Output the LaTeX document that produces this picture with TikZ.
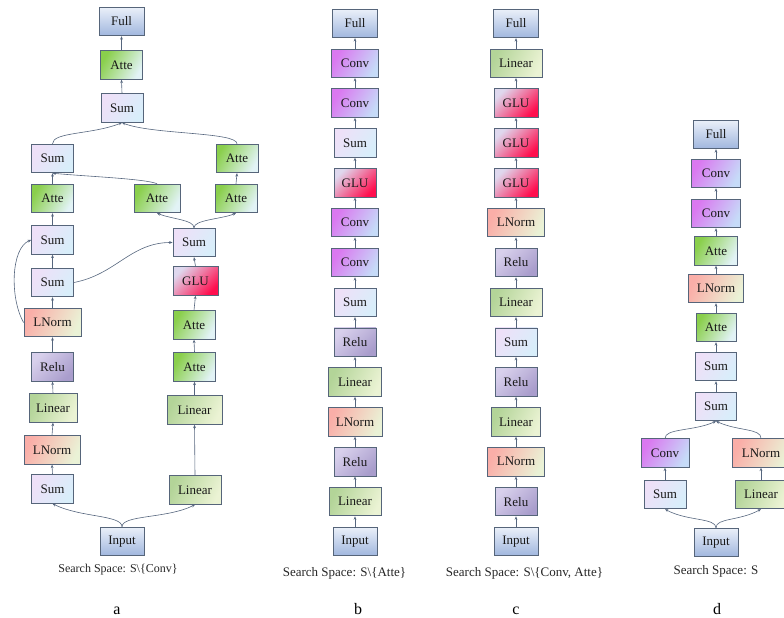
\documentclass[tikz,border=0pt]{standalone}
\usepackage{fontspec}
\setmainfont{Liberation Serif}
\usetikzlibrary{arrows.meta}
\definecolor{bordc}{HTML}{56657A}
\definecolor{edgec}{HTML}{56667E}
\definecolor{FullA}{HTML}{EAF0F9}
\definecolor{FullB}{HTML}{A0B7DE}
\definecolor{AtteA}{HTML}{8ACF4C}
\definecolor{AtteB}{HTML}{E2F3F6}
\definecolor{SumA}{HTML}{EEE0F8}
\definecolor{SumB}{HTML}{D8EEFA}
\definecolor{LNA}{HTML}{FAAEA8}
\definecolor{LNB}{HTML}{EAF2D6}
\definecolor{ReluA}{HTML}{D8D0EC}
\definecolor{ReluB}{HTML}{A99DCC}
\definecolor{LinA}{HTML}{B3D498}
\definecolor{LinB}{HTML}{EBF3D4}
\definecolor{GLUA}{HTML}{DFD8EE}
\definecolor{GLUB}{HTML}{FF0E4E}
\definecolor{ConvA}{HTML}{DA78F0}
\definecolor{ConvB}{HTML}{C6DBF8}
\tikzset{
  blk/.style={draw=bordc, line width=0.9pt, minimum height=28.5pt, inner sep=0pt,
    font=\fontsize{13}{15}\selectfont, text=black!90},
  fullbox/.style={blk, minimum width=45pt, top color=FullA, bottom color=FullB},
  inbox/.style={blk, minimum width=44pt, top color=FullA, bottom color=FullB},
  attebox/.style={blk, minimum width=42pt, top color=AtteA, bottom color=AtteB, shading angle=60},
  sumbox/.style={blk, minimum width=42pt, top color=SumA, bottom color=SumB, shading angle=60},
  lnbox/.style={blk, minimum width=56pt, top color=LNA, bottom color=LNB, shading angle=65},
  relubox/.style={blk, minimum width=42pt, top color=ReluA, bottom color=ReluB, shading angle=45},
  linbox/.style={blk, minimum width=52pt, top color=LinA, bottom color=LinB, shading angle=65},
  glubox/.style={blk, minimum width=44pt, top color=GLUA, bottom color=GLUB, shading angle=45},
  convbox/.style={blk, minimum width=47pt, top color=ConvA, bottom color=ConvB, shading angle=60},
  conn/.style={draw=edgec, line width=0.6pt, -{Stealth[length=3.4pt,width=2.8pt]}},
  captext/.style={anchor=base, inner sep=0pt, text=black!85},
  lbltext/.style={anchor=base, inner sep=0pt, font=\fontsize{16}{18}\selectfont}
}
\begin{document}
\begin{tikzpicture}[x=1pt,y=1pt]
\useasboundingbox (0,0) rectangle (784,618);
% ---------------- panel a ----------------
\node[fullbox] (aFull) at (121.5,596.5) {Full};
\node[attebox] (aAtte1) at (121.5,553) {Atte};
\node[sumbox] (aSum1) at (122,510) {Sum};
\node[sumbox] (aSumL) at (52.5,459.5) {Sum};
\node[attebox] (aAtteR1) at (237,459.5) {Atte};
\node[attebox] (aAtteL) at (52.5,419.5) {Atte};
\node[attebox, minimum width=46pt] (aAtteM) at (157,419.5) {Atte};
\node[attebox] (aAtteR2) at (236,419.5) {Atte};
\node[sumbox] (aSumL2) at (52.5,378) {Sum};
\node[sumbox] (aSumR) at (194,375.5) {Sum};
\node[sumbox] (aSumL3) at (52.5,335.5) {Sum};
\node[glubox, minimum width=45pt] (aGLU) at (195.5,337) {GLU};
\node[lnbox, minimum width=57pt] (aLNormL) at (52.5,295.5) {LNorm};
\node[attebox] (aAtteR3) at (194,293) {Atte};
\node[relubox] (aRelu) at (52.5,251) {Relu};
\node[attebox] (aAtteR4) at (194.5,251) {Atte};
\node[linbox, minimum width=48pt] (aLinL) at (53,210) {Linear};
\node[linbox, minimum width=55pt] (aLinR1) at (194.5,208) {Linear};
\node[lnbox] (aLNormL2) at (52,168) {LNorm};
\node[sumbox] (aSumB) at (52.5,129) {Sum};
\node[linbox] (aLinR2) at (195,128) {Linear};
\node[inbox] (aInput) at (122,76.5) {Input};
\node[captext, font=\fontsize{12}{14}\selectfont] (capA) at (118,45) {Search Space: S\textbackslash\{Conv\}};
\node[lbltext] (lblA) at (117,3) {a};

\draw[conn] (aAtte1.north) -- (aFull.south);
\draw[conn] (aSum1.north) -- (aAtte1.south);
\draw[conn] (aSumL.north) .. controls +(0,12) and +(-30,-12) .. (aSum1.south);
\draw[conn] (aAtteR1.north) .. controls +(0,12) and +(30,-12) .. (aSum1.south);
\draw[conn] (aAtteL.north) -- (aSumL.south);
\draw[conn] (aAtteM.north) .. controls +(-10,5) and +(30,-3) .. (aSumL.south);
\draw[conn] (aAtteR2.north) -- (aAtteR1.south);
\draw[conn] (aSumL2.north) -- (aAtteL.south);
\draw[conn] (aSumR.north) .. controls +(0,8) and +(15,-6) .. (aAtteM.south);
\draw[conn] (aSumR.north) .. controls +(0,8) and +(-15,-6) .. (aAtteR2.south);
\draw[conn] (aSumL3.north) -- (aSumL2.south);
\draw[conn] (aLNormL.west) .. controls +(-14,25) and +(-20,-8) .. (aSumL2.west);
\draw[conn] (aSumL3.east) .. controls +(42,8) and +(-42,0) .. (aSumR.west);
\draw[conn] (aLNormL.north) -- (aSumL3.south);
\draw[conn] (aGLU.north) -- (aSumR.south);
\draw[conn] (aAtteR3.north) -- (aGLU.south);
\draw[conn] (aAtteR4.north) -- (aAtteR3.south);
\draw[conn] (aRelu.north) -- (aLNormL.south);
\draw[conn] (aLinR1.north) -- (aAtteR4.south);
\draw[conn] (aLinL.north) -- (aRelu.south);
\draw[conn] (aLNormL2.north) -- (aLinL.south);
\draw[conn] (aLinR2.north) -- (aLinR1.south);
\draw[conn] (aSumB.north) -- (aLNormL2.south);
\draw[conn] (aInput.north) .. controls +(0,12) and +(28,-14) .. (aSumB.south);
\draw[conn] (aInput.north) .. controls +(0,12) and +(-28,-14) .. (aLinR2.south);

% ---------------- panel b ----------------
\node[inbox] (bIn) at (355,76.5) {Input};
\node[linbox] (bLin1) at (355,116.35) {Linear};
\node[relubox] (bRelu1) at (355,156.2) {Relu};
\node[lnbox, minimum width=54pt] (bLN) at (355,196.05) {LNorm};
\node[linbox, minimum width=53pt] (bLin2) at (355,235.9) {Linear};
\node[relubox] (bRelu2) at (355,275.75) {Relu};
\node[sumbox] (bSum1) at (355,315.6) {Sum};
\node[convbox] (bConv1) at (355,355.45) {Conv};
\node[convbox] (bConv2) at (355,395.3) {Conv};
\node[glubox, minimum width=42pt] (bGLU) at (355,435.15) {GLU};
\node[sumbox] (bSum2) at (355,475) {Sum};
\node[convbox] (bConv3) at (355,514.85) {Conv};
\node[convbox] (bConv4) at (355,554.7) {Conv};
\node[fullbox] (bFull) at (355,594.55) {Full};
\node[captext, font=\fontsize{13}{15}\selectfont] (capB) at (344.5,41) {Search Space: S\textbackslash\{Atte\}};
\node[lbltext] (lblB) at (358,3) {b};
\draw[conn] (bIn.north) -- (bLin1.south);
\draw[conn] (bLin1.north) -- (bRelu1.south);
\draw[conn] (bRelu1.north) -- (bLN.south);
\draw[conn] (bLN.north) -- (bLin2.south);
\draw[conn] (bLin2.north) -- (bRelu2.south);
\draw[conn] (bRelu2.north) -- (bSum1.south);
\draw[conn] (bSum1.north) -- (bConv1.south);
\draw[conn] (bConv1.north) -- (bConv2.south);
\draw[conn] (bConv2.north) -- (bGLU.south);
\draw[conn] (bGLU.north) -- (bSum2.south);
\draw[conn] (bSum2.north) -- (bConv3.south);
\draw[conn] (bConv3.north) -- (bConv4.south);
\draw[conn] (bConv4.north) -- (bFull.south);

% ---------------- panel c ----------------
\node[inbox] (cIn) at (516,76.5) {Input};
\node[relubox] (cRelu1) at (516,116.35) {Relu};
\node[lnbox, minimum width=57pt] (cLN1) at (516,156.2) {LNorm};
\node[linbox, minimum width=49pt] (cLin1) at (516,196.05) {Linear};
\node[relubox] (cRelu2) at (516,235.9) {Relu};
\node[sumbox] (cSum) at (516,275.75) {Sum};
\node[linbox] (cLin2) at (516,315.6) {Linear};
\node[relubox] (cRelu3) at (516,355.45) {Relu};
\node[lnbox, minimum width=57pt] (cLN2) at (516,395.3) {LNorm};
\node[glubox] (cGLU1) at (516,435.15) {GLU};
\node[glubox] (cGLU2) at (516,475) {GLU};
\node[glubox] (cGLU3) at (516,514.85) {GLU};
\node[linbox] (cLin3) at (516,554.7) {Linear};
\node[fullbox] (cFull) at (516,594.55) {Full};
\node[captext, font=\fontsize{13}{15}\selectfont] (capC) at (524.5,41) {Search Space: S\textbackslash\{Conv, Atte\}};
\node[lbltext] (lblC) at (516,3) {c};
\draw[conn] (cIn.north) -- (cRelu1.south);
\draw[conn] (cRelu1.north) -- (cLN1.south);
\draw[conn] (cLN1.north) -- (cLin1.south);
\draw[conn] (cLin1.north) -- (cRelu2.south);
\draw[conn] (cRelu2.north) -- (cSum.south);
\draw[conn] (cSum.north) -- (cLin2.south);
\draw[conn] (cLin2.north) -- (cRelu3.south);
\draw[conn] (cRelu3.north) -- (cLN2.south);
\draw[conn] (cLN2.north) -- (cGLU1.south);
\draw[conn] (cGLU1.north) -- (cGLU2.south);
\draw[conn] (cGLU2.north) -- (cGLU3.south);
\draw[conn] (cGLU3.north) -- (cLin3.south);
\draw[conn] (cLin3.north) -- (cFull.south);

% ---------------- panel d ----------------
\node[fullbox] (dFull) at (716,483.5) {Full};
\node[convbox, minimum width=49pt] (dConv1) at (716,444.5) {Conv};
\node[convbox, minimum width=49pt] (dConv2) at (716,404.5) {Conv};
\node[attebox, minimum width=43pt] (dAtte1) at (716,367) {Atte};
\node[lnbox, minimum width=55pt] (dLN1) at (716,329.5) {LNorm};
\node[attebox, minimum width=40pt] (dAtte2) at (716,290.5) {Atte};
\node[sumbox, minimum width=41pt] (dSum1) at (716,251.5) {Sum};
\node[sumbox, minimum width=41pt] (dSum2) at (716,211.5) {Sum};
\node[convbox, minimum width=48pt] (dConv3) at (665,165) {Conv};
\node[lnbox, minimum width=57pt] (dLN2) at (761,165) {LNorm};
\node[sumbox] (dSum3) at (665,123.5) {Sum};
\node[linbox] (dLin) at (761,123.5) {Linear};
\node[inbox] (dIn) at (716,75.5) {Input};
\node[captext, font=\fontsize{13}{15}\selectfont] (capD) at (716,43) {Search Space: S};
\node[lbltext] (lblD) at (717,3) {d};
\draw[conn] (dConv1.north) -- (dFull.south);
\draw[conn] (dConv2.north) -- (dConv1.south);
\draw[conn] (dAtte1.north) -- (dConv2.south);
\draw[conn] (dLN1.north) -- (dAtte1.south);
\draw[conn] (dAtte2.north) -- (dLN1.south);
\draw[conn] (dSum1.north) -- (dAtte2.south);
\draw[conn] (dSum2.north) -- (dSum1.south);
\draw[conn] (dConv3.north) .. controls +(0,10) and +(-22,-10) .. (dSum2.south);
\draw[conn] (dLN2.north) .. controls +(0,10) and +(22,-10) .. (dSum2.south);
\draw[conn] (dSum3.north) -- (dConv3.south);
\draw[conn] (dLin.north) -- (dLN2.south);
\draw[conn] (dIn.north) .. controls +(0,10) and +(22,-12) .. (dSum3.south);
\draw[conn] (dIn.north) .. controls +(0,10) and +(-22,-12) .. (dLin.south);
\end{tikzpicture}
\end{document}
